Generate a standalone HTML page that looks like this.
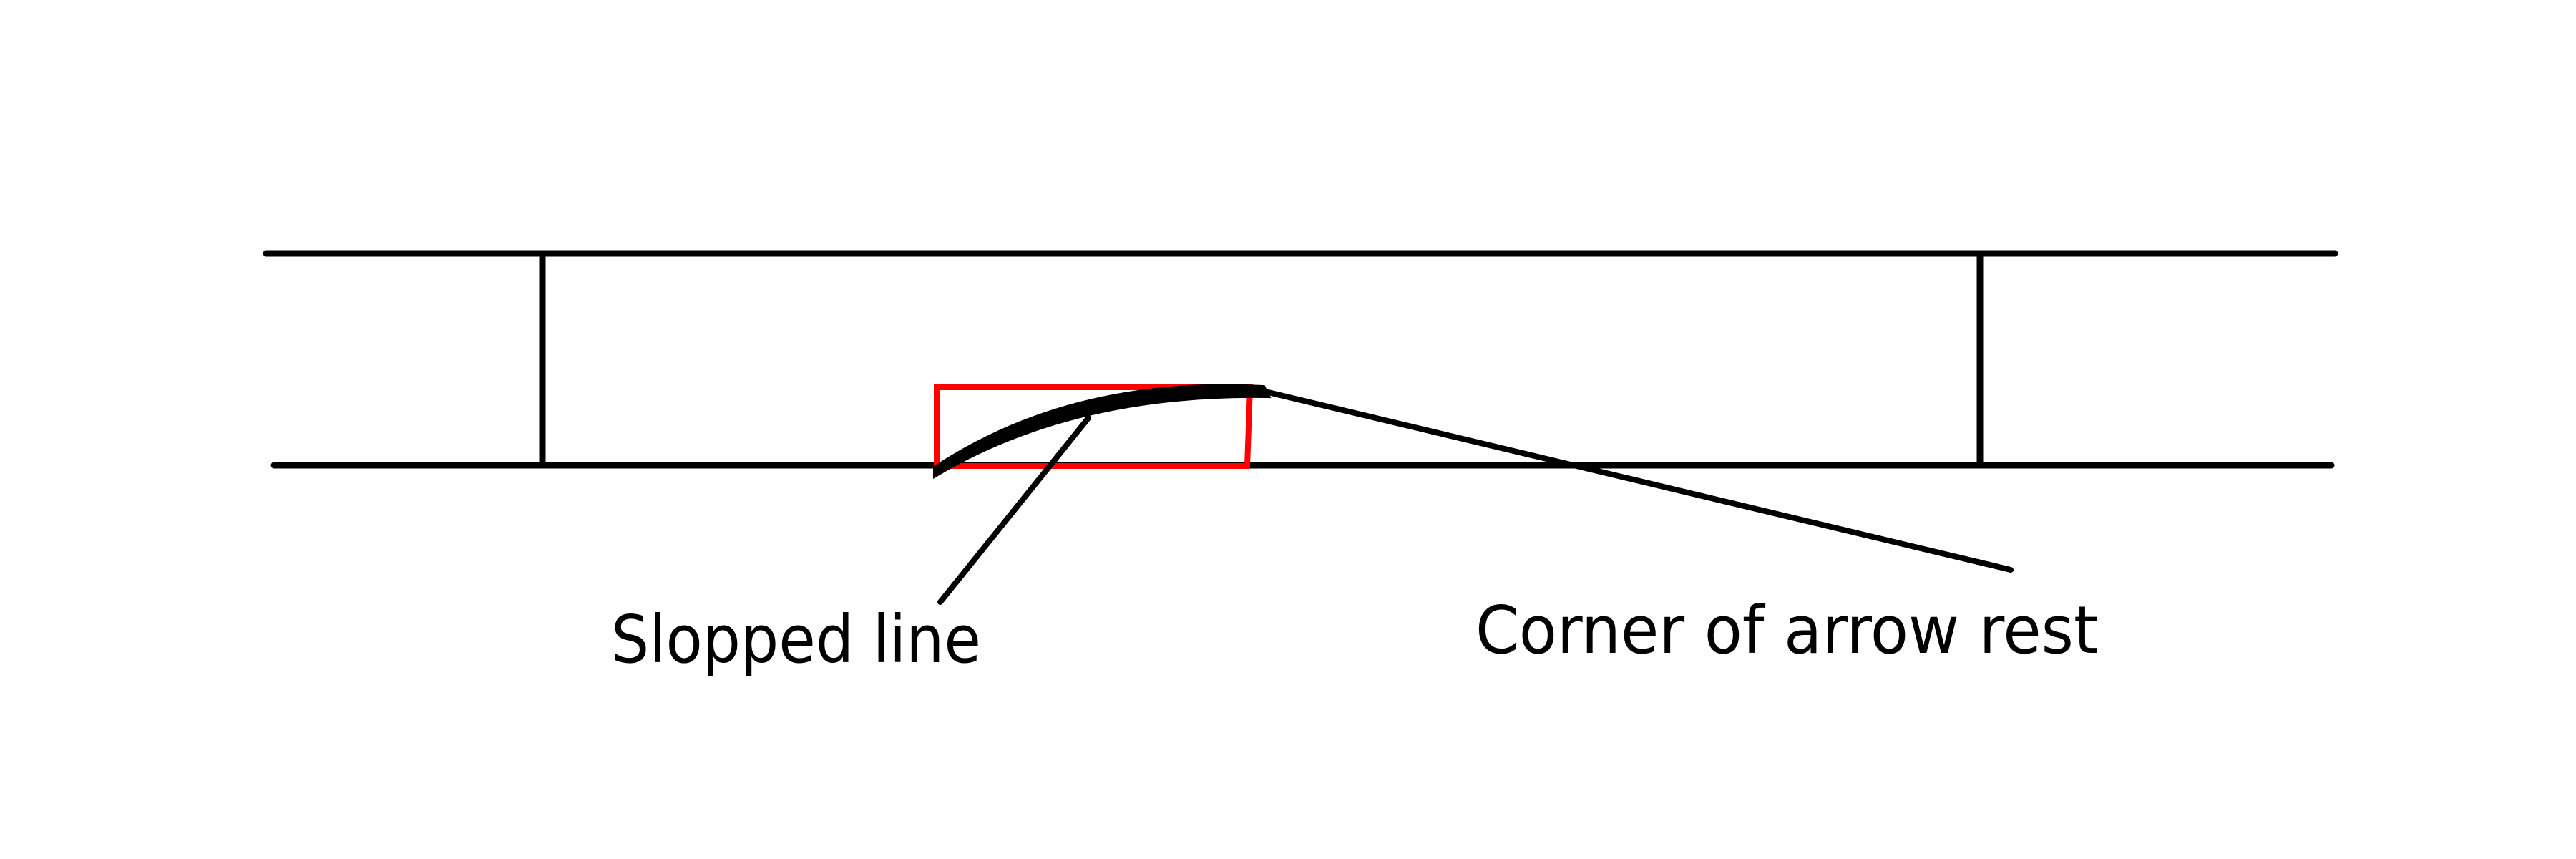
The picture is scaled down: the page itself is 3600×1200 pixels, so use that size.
<!DOCTYPE html>
<html><head><style>html,body{margin:0;padding:0;background:#fff}svg{display:block}</style></head>
<body>
<svg width="3600" height="1200" viewBox="0 0 3600 1200" xmlns="http://www.w3.org/2000/svg">
<rect width="3600" height="1200" fill="#fff"/>
<g stroke="#000" stroke-width="9" stroke-linecap="round" fill="none">
<line x1="372" y1="354" x2="3263" y2="354"/>
<line x1="383" y1="650" x2="3258" y2="650"/>
<line x1="758" y1="354" x2="758" y2="650"/>
<line x1="2767" y1="354" x2="2767" y2="650"/>
</g>
<g stroke="#f00" stroke-width="8" stroke-linecap="round" fill="none">
<polyline points="1309,651 1309,541 1747,541 1743,651 1309,651"/>
</g>
<path d="M1308,662 Q1500,548 1770,552 L1765,542 Q1500,528 1308,654 Z" fill="#000" stroke="#000" stroke-width="8"/>
<g stroke="#000" stroke-width="8" stroke-linecap="round" fill="none">
<line x1="1747" y1="542" x2="2810" y2="796"/>
<line x1="1521" y1="584" x2="1314" y2="841"/>
</g>
<g font-family="'DejaVu Sans Condensed','Liberation Sans',sans-serif" font-size="92" fill="#000">
<text x="854" y="925" textLength="517" lengthAdjust="spacingAndGlyphs">Slopped line</text>
<text x="2062" y="912" textLength="870" lengthAdjust="spacingAndGlyphs">Corner of arrow rest</text>
</g>
</svg>
</body></html>
